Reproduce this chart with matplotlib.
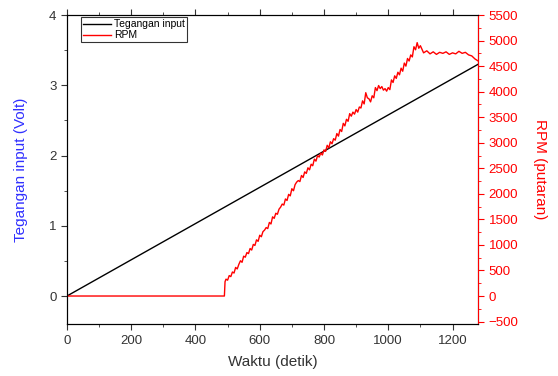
import matplotlib
matplotlib.use("Agg")
import matplotlib.pyplot as plt
from matplotlib.ticker import MultipleLocator

plt.rcParams["font.family"] = ["Liberation Sans", "DejaVu Sans"]

# input voltage ramp (straight line)
volt_t = [0, 1280]
volt_v = [0.0, 3.30]

# motor speed
rpm_t = [0, 490, 492, 495, 500, 505, 510, 515, 520, 525, 530, 535, 540, 545, 550,
         555, 560, 565, 570, 575, 580, 585, 590, 595, 600, 605, 610, 615, 620,
         625, 630, 635, 640, 645, 650, 655, 660, 665, 670, 675, 680, 685, 690,
         695, 700, 705, 710, 715, 720, 725, 730, 735, 740, 745, 750, 755, 760,
         765, 770, 775, 780, 785, 790, 795, 800, 805, 810, 815, 820, 825, 830,
         835, 840, 845, 850, 855, 860, 865, 870, 875, 880, 885, 890, 895, 900,
         905, 910, 915, 920, 925, 930, 935, 940, 945, 950, 955, 960, 965, 970,
         975, 980, 985, 990, 995, 1000, 1005, 1010, 1015, 1020, 1025, 1030,
         1035, 1040, 1045, 1050, 1055, 1060, 1065, 1070, 1075, 1080, 1085,
         1090, 1095, 1100, 1110, 1120, 1130, 1140, 1150, 1160, 1170, 1180,
         1190, 1200, 1210, 1220, 1230, 1240, 1250, 1260, 1270, 1280]
rpm_v = [0, 0, 280, 330, 310, 400, 380, 470, 450, 560, 530, 620, 690, 660, 780,
         760, 850, 830, 930, 900, 1010, 990, 1100, 1070, 1190, 1160, 1260, 1290,
         1340, 1320, 1440, 1410, 1550, 1520, 1620, 1600, 1700, 1740, 1800, 1780,
         1900, 1870, 1990, 1960, 2100, 2060, 2180, 2230, 2260, 2240, 2360, 2320,
         2430, 2400, 2510, 2470, 2580, 2550, 2680, 2640, 2750, 2720, 2800, 2760,
         2860, 2830, 2950, 2900, 3020, 2980, 3080, 3050, 3180, 3130, 3260, 3220,
         3380, 3330, 3460, 3420, 3570, 3520, 3600, 3560, 3650, 3600, 3700, 3680,
         3820, 3760, 3980, 3880, 3860, 3800, 3920, 3880, 4080, 4020, 4120, 4060,
         4100, 4030, 4060, 4010, 4080, 4040, 4230, 4180, 4310, 4260, 4380, 4330,
         4460, 4400, 4560, 4500, 4650, 4600, 4720, 4680, 4880, 4820, 4960, 4850,
         4900, 4760, 4800, 4740, 4780, 4730, 4770, 4750, 4780, 4730, 4760, 4740,
         4790, 4750, 4770, 4720, 4700, 4640, 4600]

fig = plt.figure(figsize=(5.58, 3.76), dpi=100)
ax = fig.add_axes([0.120, 0.138, 0.737, 0.822])
ax2 = ax.twinx()

ax.plot(volt_t, volt_v, color="black", lw=1.0, label="Tegangan input")
ax2.plot(rpm_t, rpm_v, color="red", lw=1.0, label="RPM")

ax.set_xlim(0, 1280)
ax.set_ylim(-0.4, 4)
ax2.set_ylim(-550, 5500)

ax.xaxis.set_major_locator(MultipleLocator(200))
ax.xaxis.set_minor_locator(MultipleLocator(100))
ax.yaxis.set_major_locator(MultipleLocator(1))
ax.yaxis.set_minor_locator(MultipleLocator(0.5))
ax2.yaxis.set_major_locator(MultipleLocator(500))
ax2.yaxis.set_minor_locator(MultipleLocator(250))

ax.tick_params(axis="both", which="both", direction="out", labelsize=9.5,
               colors="#333333", top=True)
ax.tick_params(which="major", length=4)
ax.tick_params(which="minor", length=2.5)
ax2.tick_params(axis="y", which="both", direction="out", colors="red", labelsize=9.5)
ax2.tick_params(which="major", length=4)
ax2.tick_params(which="minor", length=2.5)
ax2.spines["right"].set_color("red")

ax.set_xlabel("Waktu (detik)", fontsize=11, color="#333333")
ax.set_ylabel("Tegangan input (Volt)", fontsize=11, color="#3030ff")
ax2.set_ylabel("RPM (putaran)", fontsize=11, color="red", rotation=270)
ax.xaxis.set_label_coords(0.5, -0.10)
ax.yaxis.set_label_coords(-0.095, 0.5)
ax2.yaxis.set_label_coords(1.168, 0.5)

h1, l1 = ax.get_legend_handles_labels()
h2, l2 = ax2.get_legend_handles_labels()
leg = ax2.legend(h1 + h2, l1 + l2, loc="upper left", bbox_to_anchor=(0.03, 1.0),
                 fontsize=7.5, frameon=True, fancybox=False, borderpad=0.2,
                 handlelength=2.6, handletextpad=0.3, labelspacing=0.1,
                 borderaxespad=0.2)
leg.get_frame().set_edgecolor("black")
leg.get_frame().set_linewidth(0.8)

fig.savefig("out.png", dpi=100)
